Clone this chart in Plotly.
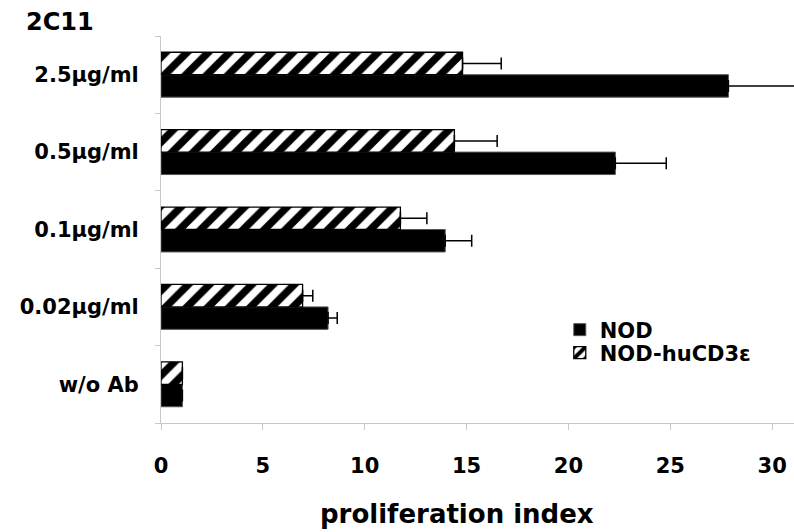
import plotly.graph_objects as go

# Antibody concentrations (bottom to top)
categories = ["w/o Ab", "0.02µg/ml", "0.1µg/ml", "0.5µg/ml", "2.5µg/ml"]

# Proliferation index, mean and upper error
nod_values = [1.05, 8.2, 13.95, 22.3, 27.85]
nod_errors = [0.0, 0.45, 1.3, 2.5, 3.6]
hucd3_values = [1.05, 6.95, 11.75, 14.4, 14.8]
hucd3_errors = [0.0, 0.5, 1.3, 2.1, 1.9]

x_ticks = [0, 5, 10, 15, 20, 25, 30]

FAMILY = "DejaVu Sans"
AXIS_GREY = "#c8c8c8"


def bold_font(size):
    return dict(family=FAMILY, size=size, color="black", weight="bold")


fig = go.Figure()

fig.add_trace(go.Bar(
    name="NOD",
    y=categories,
    x=nod_values,
    orientation="h",
    marker=dict(color="black", line=dict(color="#555555", width=1)),
    error_x=dict(type="data", array=nod_errors, arrayminus=[0] * len(nod_errors),
                 symmetric=False, color="black", thickness=1.5, width=6),
    legend="legend",
))

fig.add_trace(go.Bar(
    name="NOD-huCD3ε",
    y=categories,
    x=hucd3_values,
    orientation="h",
    marker=dict(
        color="white",
        line=dict(color="black", width=1.3),
        pattern=dict(shape="/", fgcolor="#000000", fgopacity=1, bgcolor="white",
                     fillmode="replace", size=15, solidity=0.5),
    ),
    error_x=dict(type="data", array=hucd3_errors, arrayminus=[0] * len(hucd3_errors),
                 symmetric=False, color="black", thickness=1.5, width=6),
    legend="legend2",
))

legend_common = dict(
    xanchor="left", yanchor="middle",
    font=bold_font(21),
    bgcolor="rgba(0,0,0,0)", borderwidth=0,
)

fig.update_layout(
    width=794, height=532,
    margin=dict(l=161, r=0, t=36, b=109),
    paper_bgcolor="white", plot_bgcolor="white",
    barmode="group", bargap=0.42, bargroupgap=0,
    showlegend=True,
    legend=dict(x=0.63, y=0.2403, **legend_common),
    legend2=dict(x=0.63, y=0.1809, **legend_common),
    xaxis=dict(
        range=[0, 31.07],
        tickvals=x_ticks,
        ticktext=[str(v) for v in x_ticks],
        ticks="outside", ticklen=6, tickcolor=AXIS_GREY, tickwidth=1,
        showline=True, linecolor=AXIS_GREY, linewidth=1,
        showgrid=False, zeroline=False,
        tickfont=bold_font(21),
        ticklabelstandoff=18,
    ),
    yaxis=dict(
        type="category",
        categoryorder="array", categoryarray=categories,
        ticks="outside", tickson="boundaries", ticklen=5,
        tickcolor=AXIS_GREY, tickwidth=1,
        showline=True, linecolor=AXIS_GREY, linewidth=1,
        showgrid=False, zeroline=False,
        tickfont=bold_font(21),
        ticklabelstandoff=17,
    ),
    annotations=[
        dict(text="2C11", xref="paper", yref="paper", x=-0.16, y=1.0349,
             xanchor="center", yanchor="middle", showarrow=False, font=bold_font(24)),
        dict(text="proliferation index", xref="paper", yref="paper", x=0.4676, y=-0.2351,
             xanchor="center", yanchor="middle", showarrow=False, font=bold_font(26)),
    ],
)

fig.write_html("out.html")
